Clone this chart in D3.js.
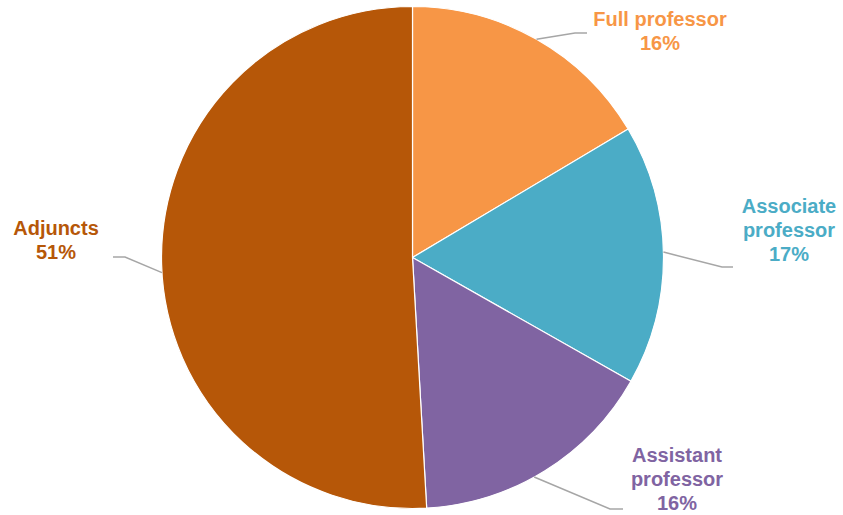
<!DOCTYPE html>
<html><head><meta charset="utf-8">
<script src="https://cdn.jsdelivr.net/npm/d3@7"></script>
<style>body{margin:0;background:#fff}svg{display:block}</style>
</head><body>
<script>
const categories = ["Full professor", "Associate professor", "Assistant professor", "Adjuncts"];
const labelLines = [["Full professor"], ["Associate", "professor"], ["Assistant", "professor"], ["Adjuncts"]];
const values = [16.45, 16.75, 15.9, 50.9];
const colors = ["#F79646", "#4BACC6", "#8064A2", "#B65708"];

const W = 843, H = 515;
const cx = 412.5, cy = 257.5, R = 251;
const svg = d3.select("body").append("svg").attr("width", W).attr("height", H);
const g = svg.append("g").attr("transform", `translate(${cx},${cy})`);

const pie = d3.pie().sort(null).value(d => d);
const arcs = pie(values);
const arc = d3.arc().innerRadius(0).outerRadius(R);

g.selectAll("path.slice").data(arcs).enter().append("path")
  .attr("d", arc).attr("fill", (d, i) => colors[i])
  .attr("stroke", "#fff").attr("stroke-width", 1.2);

const labelPos = [
  {x: 660, y: 26, elbow: [575, 33], end: [587, 33], edgeA: 0.50},
  {x: 789, y: 213, elbow: [722, 267], end: [733, 267], edgeA: 0.49},
  {x: 677, y: 462, elbow: [610, 509], end: [623, 509], edgeA: 0.55},
  {x: 56, y: 235, elbow: [125, 257], end: [113, 257], edgeA: 0.49}
];

const total = d3.sum(values);
arcs.forEach((d, i) => {
  const p = labelPos[i];
  const a = d.startAngle + (d.endAngle - d.startAngle) * p.edgeA;
  const ex = cx + R * Math.sin(a), ey = cy - R * Math.cos(a);
  svg.append("polyline")
    .attr("points", `${ex},${ey} ${p.elbow[0]},${p.elbow[1]} ${p.end[0]},${p.end[1]}`)
    .attr("fill", "none").attr("stroke", "#A6A6A6").attr("stroke-width", 1.5);
  const lines = labelLines[i].concat([Math.round(values[i] / total * 100) + "%"]);
  const t = svg.append("text")
    .attr("x", p.x).attr("y", p.y)
    .attr("text-anchor", "middle")
    .attr("font-family", "Liberation Sans, Arial, sans-serif")
    .attr("font-weight", "bold").attr("font-size", 20)
    .attr("fill", colors[i]);
  lines.forEach((l, k) => {
    t.append("tspan").attr("x", p.x).attr("y", p.y + k * 24).text(l);
  });
});
</script>
</body></html>
